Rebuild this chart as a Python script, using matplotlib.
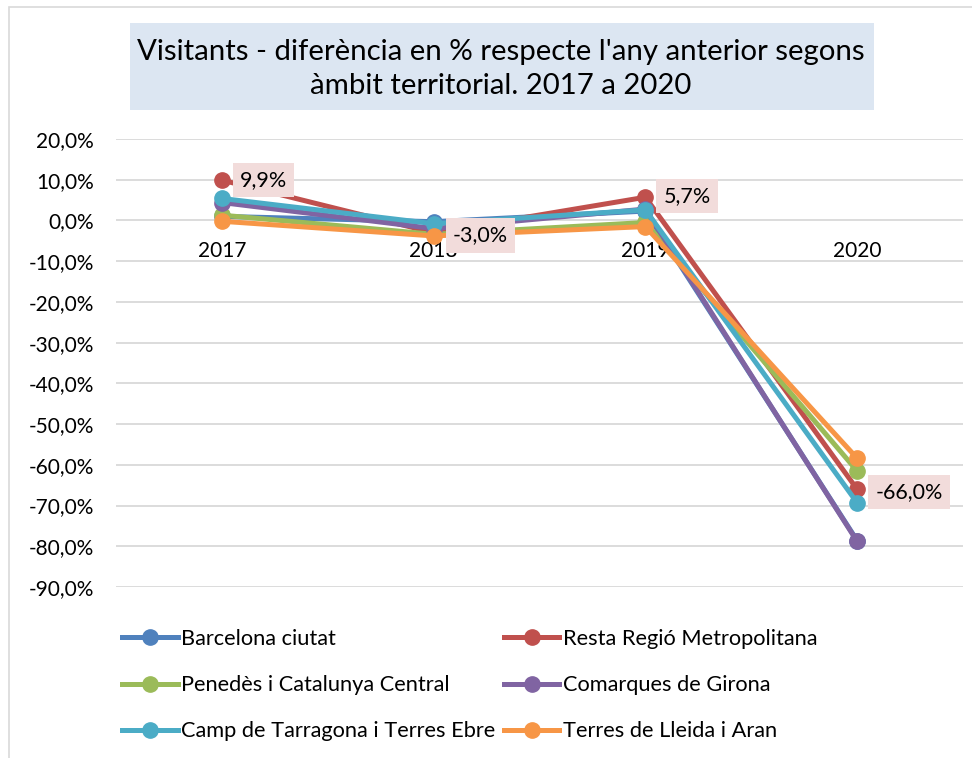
import matplotlib
matplotlib.use("Agg")
import matplotlib.pyplot as plt
from matplotlib.lines import Line2D
from matplotlib.patches import Rectangle
from matplotlib.ticker import FuncFormatter

plt.rcParams["font.family"] = ["Lato", "DejaVu Sans"]

years = ["2017", "2018", "2019", "2020"]
series_names = [
    "Barcelona ciutat",
    "Resta Regió Metropolitana",
    "Penedès i Catalunya Central",
    "Comarques de Girona",
    "Camp de Tarragona i Terres Ebre",
    "Terres de Lleida i Aran",
]
barcelona = [1.0, -0.3, 2.3, -78.6]
resta = [9.9, -3.0, 5.7, -66.0]
penedes = [1.3, -3.4, -0.5, -61.5]
girona = [4.4, -2.0, 2.8, -78.8]
tarragona = [5.4, -0.8, 2.6, -69.3]
lleida = [-0.2, -3.8, -1.5, -58.4]
values = [barcelona, resta, penedes, girona, tarragona, lleida]
colors = ["#4F81BD", "#C0504D", "#9BBB59", "#8064A2", "#4BACC6", "#F79646"]

yticks = list(range(20, -100, -10))


def pct(v, _pos=None):
    return f"{v:.1f}%".replace(".", ",")


fig = plt.figure(figsize=(9.72, 7.58), dpi=100)

# chart border
fig.patches.append(Rectangle((9 / 972, -0.01), 1.0, 1 - 7 / 758 + 0.01,
                             transform=fig.transFigure, fill=False,
                             edgecolor="#D9D9D9", linewidth=1.2))

# title box
fig.patches.append(Rectangle((130 / 972, 1 - 110 / 758), 744 / 972, 87 / 758,
                             transform=fig.transFigure, facecolor="#DCE6F2",
                             edgecolor="none"))
fig.text(501 / 972, 1 - 69 / 758,
         "Visitants - diferència en % respecte l'any anterior segons\nàmbit territorial. 2017 a 2020",
         ha="center", va="center", fontsize=21.2, linespacing=1.38)

ax = fig.add_axes([116 / 972, 1 - 587 / 758, 847 / 972, 448 / 758])
x = list(range(len(years)))
for name, vals, c in zip(series_names, values, colors):
    ax.plot(x, vals, color=c, linewidth=3.6, marker="o", markersize=11,
            label=name, solid_capstyle="round", solid_joinstyle="round",
            zorder=3)

ax.set_xlim(-0.5, 3.5)
ax.set_ylim(-90, 20)
ax.set_yticks(yticks)
ax.yaxis.set_major_formatter(FuncFormatter(pct))
ax.grid(axis="y", color="#D9D9D9", linewidth=1.3)
ax.set_axisbelow(True)
for s in ax.spines.values():
    s.set_visible(False)
ax.spines["bottom"].set_position(("data", 0))
ax.set_xticks(x)
ax.set_xticklabels(years)
ax.tick_params(axis="both", length=0, labelsize=15)
ax.tick_params(axis="x", labelsize=15, pad=15)
ax.tick_params(axis="y", pad=16)

# data labels for Resta Regió Metropolitana
label_offsets = [(13, 0), (14, -2), (13, 1), (13, -2)]
for xi, v, off in zip(x, resta, label_offsets):
    ax.annotate(pct(v), (xi, v), xytext=off, textcoords="offset points",
                ha="left", va="center", fontsize=15.5, zorder=4,
                bbox=dict(boxstyle="square,pad=0.33", facecolor="#F2DCDB",
                          edgecolor="none"))

# legend: matplotlib fills columns first
handles = [Line2D([], [], color=c, linewidth=3.6, marker="o", markersize=11)
           for c in colors]
order = [0, 2, 4, 1, 3, 5]
fig.legend([handles[i] for i in order], [series_names[i] for i in order],
           ncol=2, loc="upper left", bbox_to_anchor=(122 / 972, 1 - 629 / 758),
           frameon=False, fontsize=15.7, handlelength=2.55, handletextpad=0.15,
           columnspacing=0.4, labelspacing=1.2, borderaxespad=0,
           borderpad=0)

fig.savefig("out.png", dpi=100)
